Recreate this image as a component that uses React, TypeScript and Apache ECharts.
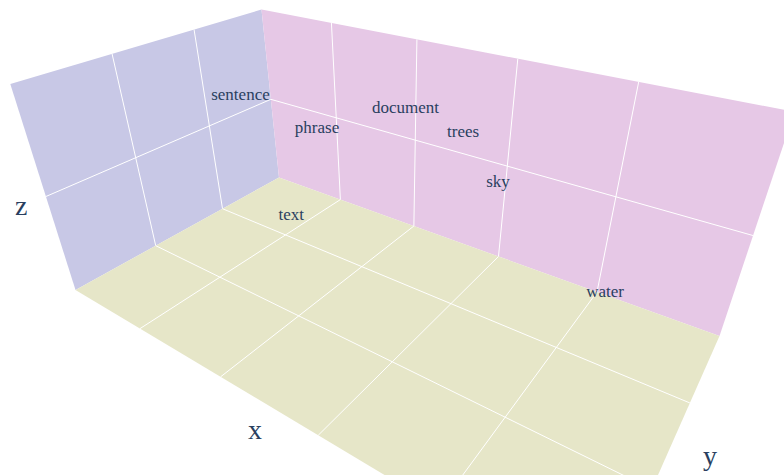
import React, { useEffect, useRef } from "react";
import * as echarts from "echarts";

// ---- data ----
const words = ["sentence", "phrase", "document", "trees", "sky", "text", "water"];
const xValues = [-0.104, 0.042, 0.213, 0.38, 0.487, 0.114, 0.674];
const yValues = [0.22, 0.28, 0.34, 0.25, 0.16, 0.1, 0.13];
const zValues = [0.195, 0.058, 0.216, 0.278, 0.219, -0.172, -0.037];

const xRange = [-0.19, 0.81];
const yRange = [-0.2, 0.4];
const zRange = [-0.5, 0.5];
const xTicks = [0, 0.2, 0.4, 0.6];
const yTicks = [0, 0.2];
const zTicks = [0];
const axisTitles = ["x", "y", "z"];

// ---- camera (pixel anchors of the scene box corners) ----
const VIEW = {
  O: [75.5, 290], // (xmin, ymin, zmin)
  A: [279, 177.5], // (xmin, ymax, zmin)
  C: [10.3, 84], // (xmin, ymin, zmax)
  D: [261.5, 9.5], // (xmin, ymax, zmax)
  B: [719.5, 336], // (xmax, ymax, zmin)
  beta: 0.898,
};

function buildCamera() {
  const { O, A, C, D, B, beta } = VIEW;
  const a11 = A[0] - D[0], a12 = C[0] - D[0], b1 = O[0] - D[0];
  const a21 = A[1] - D[1], a22 = C[1] - D[1], b2 = O[1] - D[1];
  const det = a11 * a22 - a12 * a21;
  const alpha = (b1 * a22 - a12 * b2) / det;
  const gamma = (a11 * b2 - a21 * b1) / det;
  const Oh = [O[0], O[1], 1], Ah = [A[0], A[1], 1], Ch = [C[0], C[1], 1], Bh = [B[0], B[1], 1];
  const p4 = Oh;
  const p2 = Ah.map((v, i) => alpha * v - Oh[i]);
  const p3 = Ch.map((v, i) => gamma * v - Oh[i]);
  const p1 = Bh.map((v, i) => beta * v - alpha * Ah[i]);
  return { p1, p2, p3, p4 };
}
const CAM = buildCamera();

function projN(u: number, v: number, w: number): number[] {
  const { p1, p2, p3, p4 } = CAM;
  const h = [0, 1, 2].map((i) => p1[i] * u + p2[i] * v + p3[i] * w + p4[i]);
  return [h[0] / h[2], h[1] / h[2]];
}
const nx = (x: number) => (x - xRange[0]) / (xRange[1] - xRange[0]);
const ny = (y: number) => (y - yRange[0]) / (yRange[1] - yRange[0]);
const nz = (z: number) => (z - zRange[0]) / (zRange[1] - zRange[0]);
const proj = (x: number, y: number, z: number) => projN(nx(x), ny(y), nz(z));

const TEXT_COLOR = "#2a3f5f";
const WALL_COLORS = ["rgb(200,200,230)", "rgb(230,200,230)", "rgb(230,230,200)"];
const TITLE_POS: Record<string, number[]> = {
  x: [0.51, -0.082, 0],
  y: [1.048, 0.514, 0],
  z: [0, -0.079, 0.507],
};

function gridLine(a: number[], b: number[]) {
  const p = projN(a[0], a[1], a[2]);
  const q = projN(b[0], b[1], b[2]);
  return {
    type: "line",
    shape: { x1: p[0], y1: p[1], x2: q[0], y2: q[1] },
    style: { stroke: "#ffffff", lineWidth: 1 },
  };
}

function renderFace(params: any) {
  const f = params.dataIndex;
  let corners: number[][] = [];
  const lines: any[] = [];
  if (f === 0) {
    corners = [[0, 0, 0], [0, 1, 0], [0, 1, 1], [0, 0, 1]];
    yTicks.forEach((t) => lines.push(gridLine([0, ny(t), 0], [0, ny(t), 1])));
    zTicks.forEach((t) => lines.push(gridLine([0, 0, nz(t)], [0, 1, nz(t)])));
  } else if (f === 1) {
    corners = [[0, 1, 0], [1, 1, 0], [1, 1, 1], [0, 1, 1]];
    xTicks.forEach((t) => lines.push(gridLine([nx(t), 1, 0], [nx(t), 1, 1])));
    zTicks.forEach((t) => lines.push(gridLine([0, 1, nz(t)], [1, 1, nz(t)])));
  } else {
    corners = [[0, 0, 0], [1, 0, 0], [1, 1, 0], [0, 1, 0]];
    xTicks.forEach((t) => lines.push(gridLine([nx(t), 0, 0], [nx(t), 1, 0])));
    yTicks.forEach((t) => lines.push(gridLine([0, ny(t), 0], [1, ny(t), 0])));
  }
  const pts = corners.map((c) => projN(c[0], c[1], c[2]));
  return {
    type: "group",
    children: [
      { type: "polygon", shape: { points: pts }, style: { fill: WALL_COLORS[f], stroke: "none" } },
      ...lines,
    ],
  };
}

function renderWord(params: any, api: any) {
  const p = proj(api.value(0), api.value(1), api.value(2));
  return {
    type: "text",
    x: p[0],
    y: p[1] - 1.5,
    style: {
      text: words[params.dataIndex],
      fill: TEXT_COLOR,
      font: "17px 'Liberation Serif', 'Times New Roman', serif",
      align: "center",
      verticalAlign: "middle",
      textAlign: "center",
      textVerticalAlign: "middle",
    },
  };
}

function renderTitle(params: any) {
  const name = axisTitles[params.dataIndex];
  const t = TITLE_POS[name];
  const p = projN(t[0], t[1], t[2]);
  return {
    type: "text",
    x: p[0],
    y: p[1],
    style: {
      text: name,
      fill: TEXT_COLOR,
      font: "28px 'Liberation Serif', 'Times New Roman', serif",
      align: "center",
      verticalAlign: "middle",
      textAlign: "center",
      textVerticalAlign: "middle",
    },
  };
}

export default function App() {
  const ref = useRef<HTMLDivElement>(null);
  useEffect(() => {
    document.body.style.margin = "0";
    const chart = echarts.init(ref.current as HTMLDivElement, null, { renderer: "svg" });
    chart.setOption({
      animation: false,
      backgroundColor: "#ffffff",
      series: [
        {
          type: "custom",
          name: "scene",
          coordinateSystem: "none",
          silent: true,
          z: 1,
          data: [[0], [1], [2]],
          renderItem: renderFace,
        },
        {
          type: "custom",
          name: "axis titles",
          coordinateSystem: "none",
          silent: true,
          z: 2,
          data: axisTitles.map((_, i) => [i]),
          renderItem: renderTitle,
        },
        {
          type: "custom",
          name: "words",
          coordinateSystem: "none",
          silent: true,
          z: 3,
          data: words.map((_, i) => [xValues[i], yValues[i], zValues[i]]),
          renderItem: renderWord,
        },
      ],
    });
    return () => chart.dispose();
  }, []);
  return <div ref={ref} style={{ width: 784, height: 475 }} />;
}
